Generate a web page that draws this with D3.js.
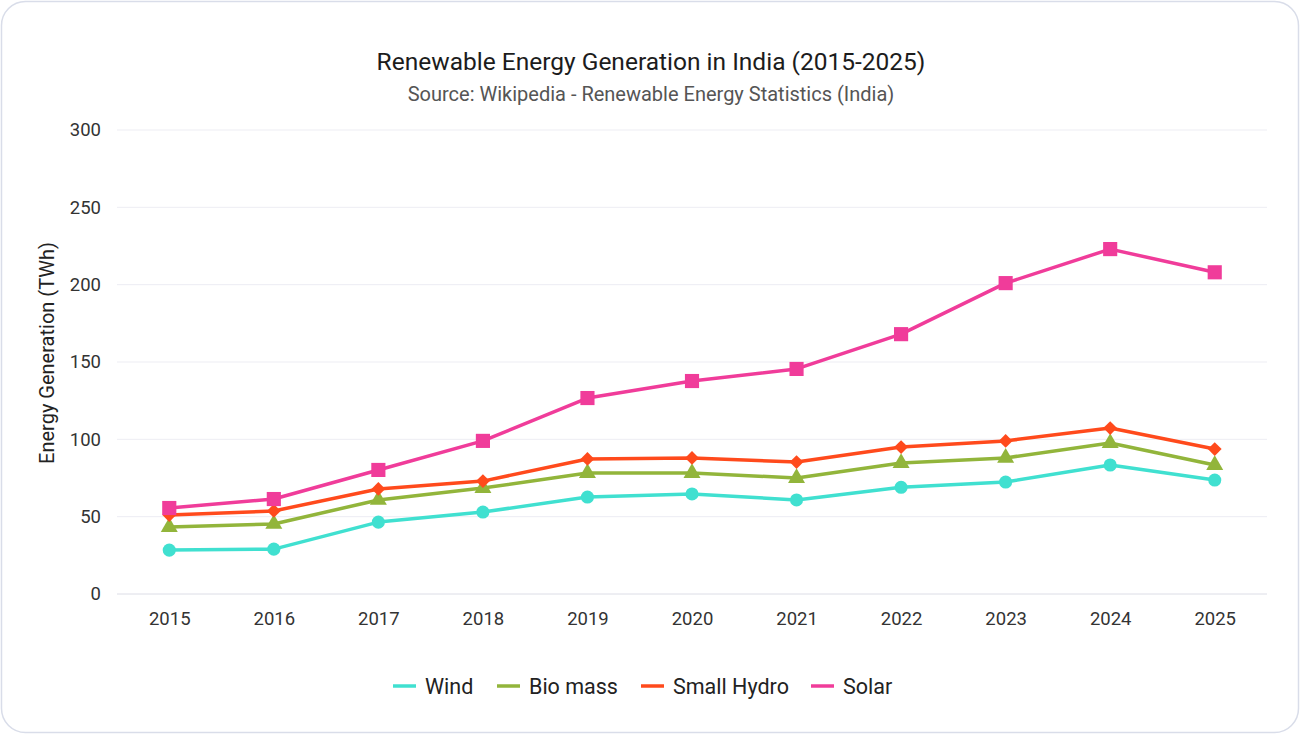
<!DOCTYPE html>
<html>
<head>
<meta charset="utf-8">
<script src="https://cdn.jsdelivr.net/npm/d3@7"></script>
<style>
  body { margin: 0; background: #fff; font-family: Roboto, "Noto Sans", sans-serif; }
  svg text { font-family: Roboto, "Noto Sans", sans-serif; }
</style>
</head>
<body>
<div id="chart"></div>
<script>
const years = ["2015", "2016", "2017", "2018", "2019", "2020", "2021", "2022", "2023", "2024", "2025"];
const wind = [28.4, 29, 46.5, 53, 62.7, 64.7, 60.8, 69, 72.4, 83.4, 73.7];
const bioMass = [43.3, 45.3, 60.8, 68.5, 78.2, 78.2, 75, 84.7, 88, 97.6, 83.4];
const smallHydro = [51, 53.7, 67.9, 73, 87.3, 88, 85.3, 95, 99, 107.3, 93.7];
const solar = [55.6, 61.4, 80.2, 99, 126.7, 137.7, 145.5, 168, 201, 223, 208];
const yTicks = [0, 50, 100, 150, 200, 250, 300];

const series = [
  { name: "Wind", values: wind, color: "#40e0d0", symbol: d3.symbolCircle, size: 135, rot: 0 },
  { name: "Bio mass", values: bioMass, color: "#92b53b", symbol: d3.symbolTriangle, size: 125, rot: 0 },
  { name: "Small Hydro", values: smallHydro, color: "#ff4a1c", symbol: d3.symbolSquare, size: 95, rot: 45 },
  { name: "Solar", values: solar, color: "#f03c9a", symbol: d3.symbolSquare, size: 200, rot: 0 }
];

const W = 1300, H = 734;
const svg = d3.select("#chart").append("svg")
  .attr("width", W)
  .attr("height", H);

// card frame
svg.append("rect")
  .attr("x", 1.5).attr("y", 1.5)
  .attr("width", W - 3).attr("height", H - 3)
  .attr("rx", 24)
  .attr("fill", "#fff")
  .attr("stroke", "#d9dde9")
  .attr("stroke-width", 1.5);

svg.append("text")
  .attr("x", 651).attr("y", 70)
  .attr("text-anchor", "middle")
  .attr("font-size", 24.5)
  .attr("fill", "#1c1c1c")
  .text("Renewable Energy Generation in India (2015-2025)");

svg.append("text")
  .attr("x", 651).attr("y", 101)
  .attr("text-anchor", "middle")
  .attr("font-size", 20)
  .attr("fill", "#555")
  .text("Source: Wikipedia - Renewable Energy Statistics (India)");

const x = d3.scalePoint()
  .domain(years)
  .range([117, 1267])
  .padding(0.5);

const y = d3.scaleLinear()
  .domain([0, 300])
  .range([594, 130]);

// grid
svg.append("g")
  .selectAll("line")
  .data(yTicks)
  .enter()
  .append("line")
    .attr("x1", 117).attr("x2", 1267)
    .attr("y1", d => y(d)).attr("y2", d => y(d))
    .attr("stroke", d => d === 0 ? "#dcdde6" : "#ededf3")
    .attr("stroke-width", 1);

// y axis labels
const yAxis = svg.append("g")
  .attr("transform", "translate(101,0)")
  .call(d3.axisLeft(y).tickValues(yTicks).tickSize(0).tickPadding(0));
yAxis.select(".domain").remove();
yAxis.selectAll("text")
  .attr("font-size", 18.5)
  .attr("fill", "#333");

// x axis labels
const xAxis = svg.append("g")
  .attr("transform", "translate(0,609)")
  .call(d3.axisBottom(x).tickSize(0).tickPadding(3));
xAxis.select(".domain").remove();
xAxis.selectAll("text")
  .attr("font-size", 18.5)
  .attr("fill", "#333");

svg.append("text")
  .attr("transform", "translate(54,353)rotate(-90)")
  .attr("text-anchor", "middle")
  .attr("font-size", 20)
  .attr("fill", "#222")
  .text("Energy Generation (TWh)");

const line = d3.line()
  .x((d, i) => x(years[i]))
  .y(d => y(d));

series.forEach(s => {
  svg.append("path")
    .datum(s.values)
    .attr("d", line)
    .attr("fill", "none")
    .attr("stroke", s.color)
    .attr("stroke-width", 3.5)
    .attr("stroke-linejoin", "round");

  svg.append("g")
    .selectAll("path")
    .data(s.values)
    .enter()
    .append("path")
      .attr("d", d3.symbol().type(s.symbol).size(s.size))
      .attr("transform", (d, i) => "translate(" + x(years[i]) + "," + y(d) + ")rotate(" + s.rot + ")")
      .attr("fill", s.color);
});

// legend
const legendX = [393, 497, 641, 811];
const legend = svg.append("g")
  .selectAll("g")
  .data(series)
  .enter()
  .append("g")
    .attr("transform", (d, i) => "translate(" + legendX[i] + ",686)");

legend.append("line")
  .attr("x1", 0).attr("x2", 23)
  .attr("stroke", d => d.color)
  .attr("stroke-width", 3.5);

legend.append("text")
  .attr("x", 32).attr("y", 7.5)
  .attr("font-size", 21.5)
  .attr("fill", "#222")
  .text(d => d.name);
</script>
</body>
</html>
